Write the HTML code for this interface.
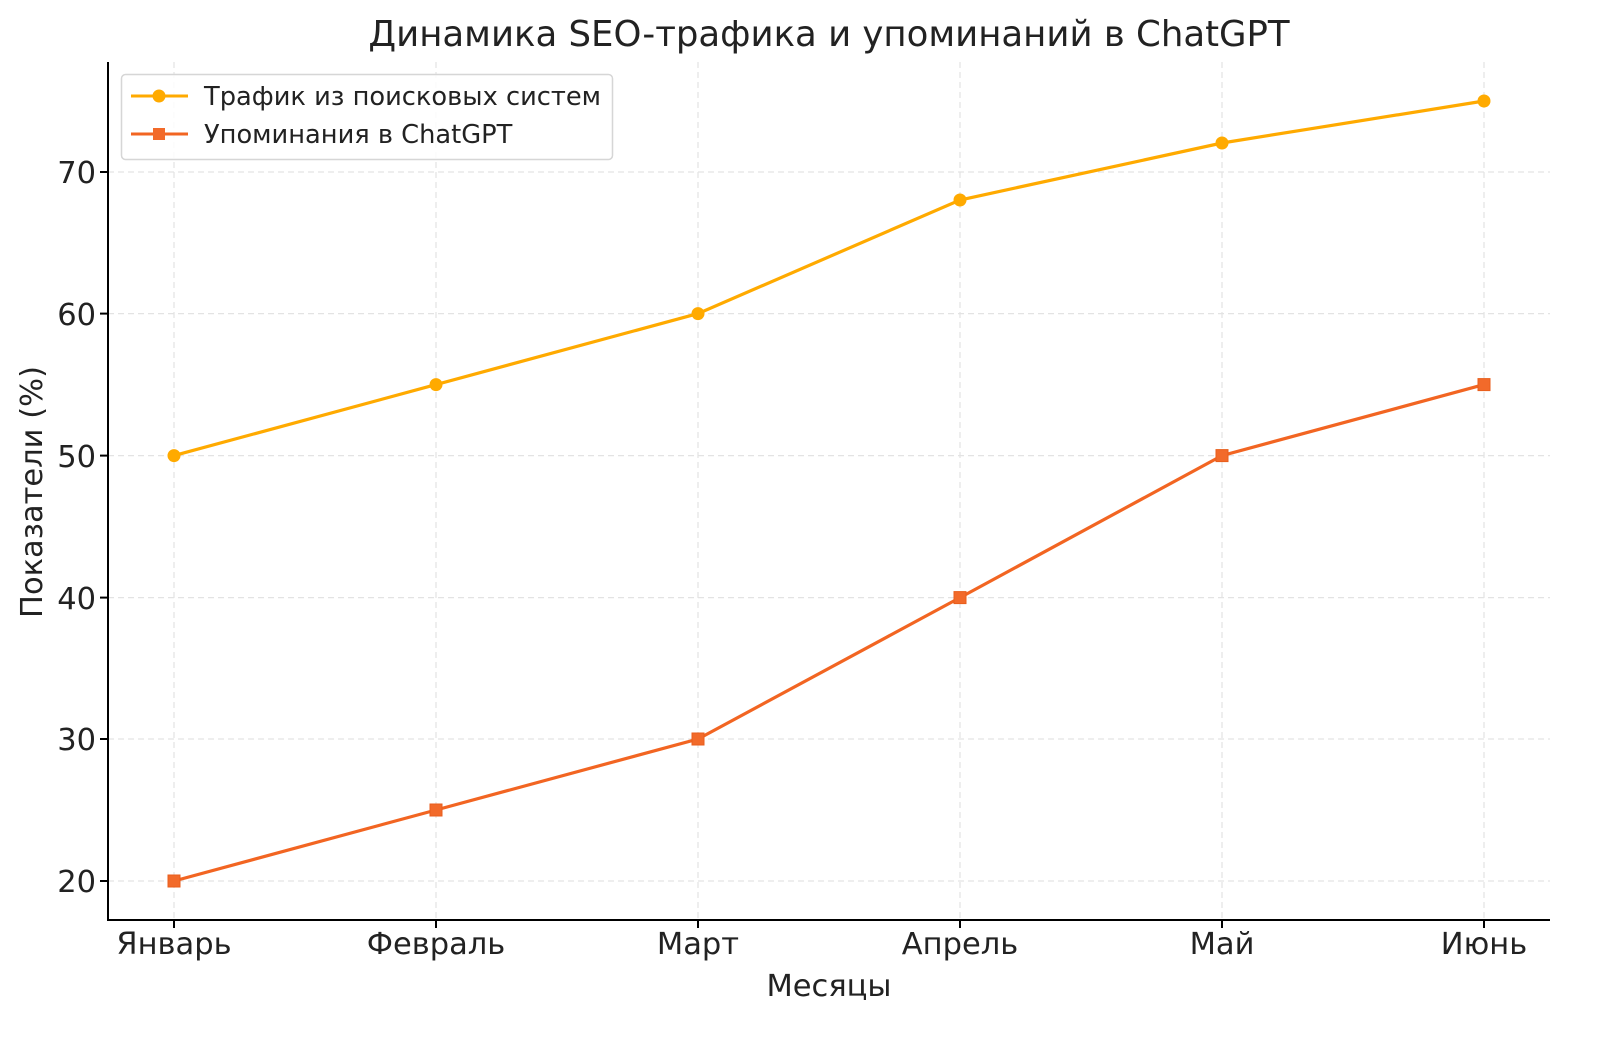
<!DOCTYPE html>
<html><head><meta charset="utf-8"><style>body{margin:0;background:#fff}svg{display:block}text{font-family:"DejaVu Sans","Liberation Sans",sans-serif;fill:#222}</style></head><body>
<svg width="1600" height="1041" viewBox="0 0 1600 1041" xmlns="http://www.w3.org/2000/svg">
<g stroke="#e3e3e3" stroke-width="1.2" stroke-dasharray="6,4">
<line x1="174" y1="62" x2="174" y2="920"/><line x1="436" y1="62" x2="436" y2="920"/><line x1="698" y1="62" x2="698" y2="920"/><line x1="960" y1="62" x2="960" y2="920"/><line x1="1222" y1="62" x2="1222" y2="920"/><line x1="1484" y1="62" x2="1484" y2="920"/>
<line x1="108" y1="881" x2="1550" y2="881"/><line x1="108" y1="739" x2="1550" y2="739"/><line x1="108" y1="597.6" x2="1550" y2="597.6"/><line x1="108" y1="455.6" x2="1550" y2="455.6"/><line x1="108" y1="313.6" x2="1550" y2="313.6"/><line x1="108" y1="172" x2="1550" y2="172"/>
</g>
<g stroke="#000" stroke-width="2">
<line x1="108" y1="62" x2="108" y2="921"/><line x1="107" y1="920" x2="1550" y2="920"/>
<line x1="100" y1="881" x2="108" y2="881"/><line x1="100" y1="739" x2="108" y2="739"/><line x1="100" y1="597.6" x2="108" y2="597.6"/><line x1="100" y1="455.6" x2="108" y2="455.6"/><line x1="100" y1="313.6" x2="108" y2="313.6"/><line x1="100" y1="172" x2="108" y2="172"/>
<line x1="174" y1="920" x2="174" y2="928"/><line x1="436" y1="920" x2="436" y2="928"/><line x1="698" y1="920" x2="698" y2="928"/><line x1="960" y1="920" x2="960" y2="928"/><line x1="1222" y1="920" x2="1222" y2="928"/><line x1="1484" y1="920" x2="1484" y2="928"/>
</g>
<g font-size="30.5" text-anchor="end">
<text x="96" y="892">20</text><text x="96" y="750">30</text><text x="96" y="609">40</text><text x="96" y="467">50</text><text x="96" y="325">60</text><text x="96" y="183">70</text>
</g>
<g font-size="30.5" text-anchor="middle">
<text x="174" y="954">Январь</text><text x="436" y="954">Февраль</text><text x="698" y="954">Март</text><text x="960" y="954">Апрель</text><text x="1222" y="954">Май</text><text x="1484" y="954">Июнь</text>
<text x="829" y="996">Месяцы</text>
<text x="829" y="46" font-size="35.5">Динамика SEO-трафика и упоминаний в ChatGPT</text>
<text transform="translate(42,492) rotate(-90)">Показатели (%)</text>
</g>
<polyline fill="none" stroke="#FFAA00" stroke-width="3.2" points="174,455.6 436,384.6 698,313.6 960,200 1222,143 1484,101"/>
<g fill="#FFAA00"><circle cx="174" cy="455.6" r="6.5"/><circle cx="436" cy="384.6" r="6.5"/><circle cx="698" cy="313.6" r="6.5"/><circle cx="960" cy="200" r="6.5"/><circle cx="1222" cy="143" r="6.5"/><circle cx="1484" cy="101" r="6.5"/></g>
<polyline fill="none" stroke="#F26522" stroke-width="3.2" points="174,881 436,810 698,739 960,597.6 1222,455.6 1484,384.6"/>
<g fill="#F26A2A" stroke="#E85E1C" stroke-width="1"><rect x="168" y="875" width="12" height="12"/><rect x="430" y="804" width="12" height="12"/><rect x="692" y="733" width="12" height="12"/><rect x="954" y="591.6" width="12" height="12"/><rect x="1216" y="449.6" width="12" height="12"/><rect x="1478" y="378.6" width="12" height="12"/></g>
<rect x="121.5" y="74.5" width="491" height="85" rx="4" fill="#fff" fill-opacity="0.85" stroke="#d6d6d6" stroke-width="1.5"/>
<line x1="131" y1="96" x2="188" y2="96" stroke="#FFAA00" stroke-width="3"/><circle cx="159" cy="96" r="6.5" fill="#FFAA00"/>
<line x1="131" y1="134" x2="188" y2="134" stroke="#F26522" stroke-width="3"/><rect x="153" y="128" width="12" height="12" fill="#F26A2A"/>
<g font-size="25.7"><text x="204" y="105">Трафик из поисковых систем</text><text x="204" y="143">Упоминания в ChatGPT</text></g>
</svg>
</body></html>
